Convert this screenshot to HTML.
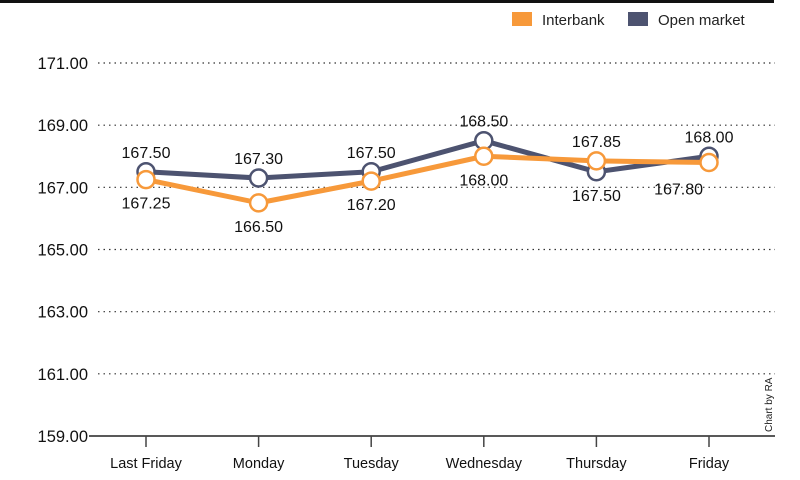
<!DOCTYPE html>
<html><head><meta charset="utf-8"><style>
body{margin:0;background:#fff}
svg{display:block;font-family:"Liberation Sans",sans-serif}
</style></head><body>
<svg id="chart" width="800" height="480" viewBox="0 0 800 480">
<line x1="0" y1="1.5" x2="774" y2="1.5" stroke="#111" stroke-width="3"/>
<g>
<rect x="512" y="12" width="20" height="14" fill="#f7993a"/>
<text x="542" y="25" font-size="15" fill="#222">Interbank</text>
<rect x="628" y="12" width="20" height="14" fill="#4d5370"/>
<text x="658" y="25" font-size="15" fill="#222">Open market</text>
</g>
<g id="grid"></g><g id="axes"></g><g id="series"></g><g id="labels"></g>
<text transform="translate(772,432) rotate(-90)" font-size="10" fill="#222">Chart by RA</text>
</svg>
<script>
const categories=["Last Friday","Monday","Tuesday","Wednesday","Thursday","Friday"];
const interbank=[167.25,166.50,167.20,168.00,167.85,167.80];
const openMarket=[167.50,167.30,167.50,168.50,167.50,168.00];
const yTicks=[159,161,163,165,167,169,171];
const ibLabelPos=["below","below","below","below","above","left"];
const omLabelPos=["above","above","above","above","below","above"];
const NS="http://www.w3.org/2000/svg";
const x0=146,dx=112.6,yMin=159,yMax=171,yTop=63,yBot=436;
const X=i=>x0+i*dx;
const Y=v=>yBot-(v-yMin)/(yMax-yMin)*(yBot-yTop);
function mk(tag,attrs,parent,txt){const e=document.createElementNS(NS,tag);for(const k in attrs)e.setAttribute(k,attrs[k]);if(txt!=null)e.textContent=txt;document.getElementById(parent).appendChild(e);return e;}
yTicks.forEach((t,i)=>{
 if(t!==yMin){const g=mk('line',{x1:98,x2:775,y1:Y(t),y2:Y(t),stroke:'#333','stroke-width':1.2,'stroke-dasharray':'1.5 4'},'grid');
 
 }
 const l=mk('text',{x:88,y:Y(t)+6,'font-size':16.5,fill:'#111','text-anchor':'end'},'axes',t.toFixed(2));
 
 
});
const ax=mk('line',{x1:89,x2:775,y1:yBot,y2:yBot,stroke:'#222','stroke-width':1.5},'axes');


categories.forEach((c,i)=>{
 const tk=mk('line',{x1:X(i),x2:X(i),y1:yBot,y2:yBot+11,stroke:'#444','stroke-width':1.5},'axes');
 
 
 const t=mk('text',{x:X(i),y:468,'font-size':14.5,fill:'#111','text-anchor':'middle'},'axes',c);
 
 
});
function series(vals,color,name,pos){
 const p=mk('polyline',{points:vals.map((v,i)=>X(i)+','+Y(v)).join(' '),fill:'none',stroke:color,'stroke-width':5,'stroke-linejoin':'round'},'series');
 
 
 vals.forEach((v,i)=>{
  const c=mk('circle',{cx:X(i),cy:Y(v),r:8.5,fill:'#fff',stroke:color,'stroke-width':2.5},'series');
  
  
  let lx=X(i),ly=Y(v)-14,anc='middle';
  if(pos[i]==='below')ly=Y(v)+29;
  if(pos[i]==='left'){lx=X(i)-6;ly=Y(v)+32;anc='end';}
  const t=mk('text',{x:lx,y:ly,'font-size':16,fill:'#111','text-anchor':anc},'labels',v.toFixed(2));
  
  
 });
}
series(openMarket,'#4d5370','open-market',omLabelPos);
series(interbank,'#f7993a','interbank',ibLabelPos);
</script>
</body></html>
